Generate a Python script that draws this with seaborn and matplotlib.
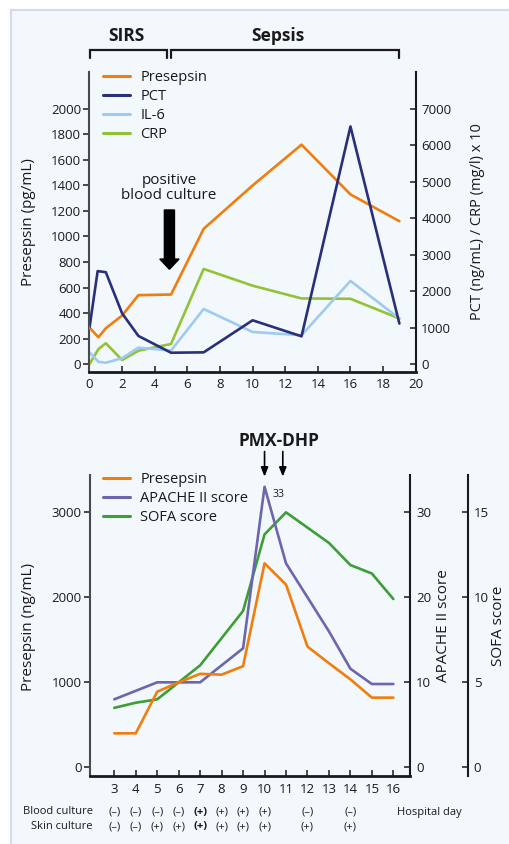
import numpy as np
import pandas as pd
import matplotlib
matplotlib.use("Agg")
import matplotlib.pyplot as plt
from matplotlib.patches import Rectangle, FancyArrow
from matplotlib.lines import Line2D
from matplotlib.transforms import blended_transform_factory
import seaborn as sns

# ---------------- data: course of biomarkers (top panel) ----------------
presepsin_days = [0, 0.55, 1, 2, 3, 5, 7, 10, 13, 16, 19]
presepsin_pg = [285, 210, 280, 380, 540, 545, 1060, 1400, 1720, 1330, 1120]

pct_days = [0, 0.5, 1, 2, 3, 5, 7, 10, 13, 16, 19]
pct_vals = [1000, 2550, 2520, 1390, 770, 310, 320, 1200, 760, 6520, 1110]

il6_days = [0, 0.55, 1, 2, 3, 5, 7, 10, 13, 16, 19]
il6_vals = [320, 60, 35, 160, 450, 370, 1510, 880, 790, 2280, 1250]

crp_days = [0, 0.55, 1, 2, 3, 5, 7, 10, 13, 16, 19]
crp_vals = [0, 410, 570, 110, 365, 550, 2610, 2150, 1800, 1790, 1250]

top_xticks = list(range(0, 21, 2))
top_left_ticks = list(range(0, 2001, 200))
top_right_ticks = list(range(0, 7001, 1000))

# ---------------- data: hospital course (bottom panel) ----------------
hospital_days = [3, 4, 5, 6, 7, 8, 9, 10, 11, 12, 13, 14, 15, 16]
presepsin_ng = [400, 400, 890, 1000, 1100, 1090, 1190, 2400, 2150, 1420, 1225, 1035, 820, 820]
apache_score = [8, 9, 10, 10, 10, 12, 14, 33, 24, 20, 16, 11.6, 9.8, 9.8]
sofa_score = [3.5, 3.8, 4.0, 5, 6, 7.6, 9.2, 13.7, 15, 14.1, 13.2, 11.9, 11.4, 9.9]

culture_days = [3, 4, 5, 6, 7, 8, 9, 10, 12, 14]
blood_culture = ["(\u2013)", "(\u2013)", "(\u2013)", "(\u2013)", "(+)", "(+)", "(+)", "(+)", "(\u2013)", "(\u2013)"]
skin_culture = ["(\u2013)", "(\u2013)", "(+)", "(+)", "(+)", "(+)", "(+)", "(+)", "(+)", "(+)"]
first_positive_day = 7

pmx_days = [10, 10.85]
bottom_left_ticks = [0, 1000, 2000, 3000]
apache_ticks = [0, 10, 20, 30]
sofa_ticks = [0, 5, 10, 15]

# ---------------- style ----------------
sns.set_theme(style="ticks")
plt.rcParams["font.family"] = ["Open Sans", "DejaVu Sans"]
plt.rcParams["axes.linewidth"] = 1.5

C_PRESEPSIN = "#f07d0c"
C_PCT = "#28307a"
C_IL6 = "#9ecbef"
C_CRP = "#92c236"
C_APACHE = "#6b66ad"
C_SOFA = "#3d9e35"
INK = "#1a1a1a"
LW = 1.9
TICK_FS = 9.5

W, H = 510, 844
fig = plt.figure(figsize=(W / 100, H / 100), dpi=100, facecolor="white")

# light panel behind both charts
panel = Rectangle((11 / W, -0.1), 1.2, 1 - 10 / H + 0.1, transform=fig.transFigure,
                  facecolor="#f3f8fd", edgecolor="#d9d9ee", lw=1.6, zorder=-5)
fig.add_artist(panel)


def fig_box(left_px, top_px, right_px, bottom_px):
    return [left_px / W, 1 - bottom_px / H, (right_px - left_px) / W, (bottom_px - top_px) / H]


def style_axis(ax, side):
    ax.set_facecolor("none")
    for s in ax.spines.values():
        s.set_color(INK)
    ax.spines["top"].set_visible(False)
    if side == "left":
        ax.spines["right"].set_visible(False)
        ax.spines["left"].set_color("#4a4a4a")
        ax.tick_params(axis="y", direction="out", length=4.5, width=1.1, pad=1.5,
                       labelsize=TICK_FS, colors=INK)
        ax.tick_params(axis="x", direction="in", length=4.5, width=1.1, pad=4,
                       labelsize=TICK_FS, colors=INK)
        ax.spines["bottom"].set_linewidth(2.0)
    else:
        ax.spines["left"].set_visible(False)
        ax.spines["bottom"].set_visible(False)
        ax.tick_params(axis="y", direction="in", length=4.5, width=1.1, pad=4,
                       labelsize=TICK_FS, colors=INK)


# ======================= top chart =======================
ax1 = fig.add_axes(fig_box(89.5, 72, 415.7, 372.3))
ax1r = ax1.twinx()
style_axis(ax1, "left")
style_axis(ax1r, "right")

sns.lineplot(x=presepsin_days, y=presepsin_pg, ax=ax1, color=C_PRESEPSIN, lw=LW, zorder=5)
sns.lineplot(x=crp_days, y=crp_vals, ax=ax1r, color=C_CRP, lw=LW, zorder=2)
sns.lineplot(x=il6_days, y=il6_vals, ax=ax1r, color=C_IL6, lw=LW, zorder=3)
sns.lineplot(x=pct_days, y=pct_vals, ax=ax1r, color=C_PCT, lw=LW, zorder=4)

ax1.set_xlim(0, 20)
ax1.set_ylim(-65, 2290)
ax1r.set_ylim(-65 * 3.5, 2290 * 3.5)
ax1.set_xticks(top_xticks)
ax1.set_yticks(top_left_ticks)
ax1r.set_yticks(top_right_ticks)
ax1.set_xlabel("")
ax1.set_ylabel("")
ax1r.set_ylabel("")

top_handles = [Line2D([], [], color=c, lw=2.2) for c in (C_PRESEPSIN, C_PCT, C_IL6, C_CRP)]
leg1 = ax1r.legend(top_handles, ["Presepsin", "PCT", "IL-6", "CRP"], loc="upper left",
                   bbox_to_anchor=(103 / W, 1 - 70 / H), bbox_transform=fig.transFigure,
                   frameon=False, fontsize=10.5, handlelength=1.85, handletextpad=0.7,
                   labelspacing=0.28, borderpad=0, borderaxespad=0)
for t in leg1.get_texts():
    t.set_color(INK)

# SIRS / Sepsis brackets above the chart
for x0, x1, name, xc in [(0.05, 4.78, "SIRS", 2.28), (5.0, 18.96, "Sepsis", 11.55)]:
    ax1.plot([x0, x0, x1, x1], [2400, 2463, 2463, 2400], color=INK, lw=1.6,
             clip_on=False, solid_joinstyle="miter")
    ax1.text(xc, 2573, name, ha="center", va="center", fontsize=12.5,
             fontweight="bold", color=INK, clip_on=False)

ax1.text(4.87, 1380, "positive\nblood culture", ha="center", va="center",
         fontsize=11, color=INK, linespacing=1.05)
ax1.add_patch(FancyArrow(4.9, 1208, 0, -465, width=0.62, head_width=1.18,
                         head_length=80, length_includes_head=True,
                         color="black", zorder=6))

fig.text(28.5 / W, 1 - 222 / H, "Presepsin (pg/mL)", rotation=90, ha="center",
         va="center", fontsize=11, color=INK)
fig.text(477.5 / W, 1 - 222 / H, "PCT (ng/mL) / CRP (mg/l) x 10", rotation=90,
         ha="center", va="center", fontsize=10.5, color=INK)

# ======================= bottom chart =======================
ax2 = fig.add_axes(fig_box(90, 475, 410.5, 776))
ax2a = ax2.twinx()
ax2s = ax2.twinx()
style_axis(ax2, "left")
style_axis(ax2a, "right")
style_axis(ax2s, "right")
ax2s.spines["right"].set_position(("axes", 1 + 57.8 / 320.5))

sns.lineplot(x=hospital_days, y=sofa_score, ax=ax2s, color=C_SOFA, lw=LW, zorder=2)
sns.lineplot(x=hospital_days, y=apache_score, ax=ax2a, color=C_APACHE, lw=LW, zorder=3)
sns.lineplot(x=hospital_days, y=presepsin_ng, ax=ax2, color=C_PRESEPSIN, lw=LW, zorder=4)

# draw order: SOFA below APACHE below presepsin
ax2s.set_zorder(1)
ax2a.set_zorder(2)
ax2.set_zorder(3)

ax2.set_xlim(1.868, 16.80)
ax2.set_ylim(-102, 3439)
ax2a.set_ylim(-1.02, 34.39)
ax2s.set_ylim(-0.51, 17.195)
ax2.set_xticks(hospital_days)
ax2.set_yticks(bottom_left_ticks)
ax2a.set_yticks(apache_ticks)
ax2s.set_yticks(sofa_ticks)
for a in (ax2, ax2a, ax2s):
    a.set_xlabel("")
    a.set_ylabel("")
ax2.tick_params(axis="x", pad=5)

bottom_handles = [Line2D([], [], color=c, lw=2.2) for c in (C_PRESEPSIN, C_APACHE, C_SOFA)]
leg2 = ax2.legend(bottom_handles, ["Presepsin", "APACHE II score", "SOFA score"],
                  loc="upper left", bbox_to_anchor=(103 / W, 1 - 472 / H),
                  bbox_transform=fig.transFigure, frameon=False, fontsize=10.5,
                  handlelength=1.85, handletextpad=0.7, labelspacing=0.28,
                  borderpad=0, borderaxespad=0)
for t in leg2.get_texts():
    t.set_color(INK)

# peak APACHE value and PMX-DHP sessions
peak_i = int(np.argmax(apache_score))
ax2a.text(hospital_days[peak_i] + 0.65, apache_score[peak_i] - 0.9, f"{apache_score[peak_i]:g}",
          ha="center", va="center", fontsize=7.5, color=INK)
ax2.text(10.65, 3839, "PMX-DHP", ha="center", va="center", fontsize=12.5,
         fontweight="bold", color=INK, clip_on=False)
for d in pmx_days:
    ax2.annotate("", xy=(d, 3420), xytext=(d, 3715), xycoords="data",
                 arrowprops=dict(arrowstyle="-|>,head_length=0.45,head_width=0.18",
                                 color="black", lw=1.2, shrinkA=0, shrinkB=0),
                 annotation_clip=False)

fig.text(28.5 / W, 1 - 627 / H, "Presepsin (ng/mL)", rotation=90, ha="center",
         va="center", fontsize=11, color=INK)
fig.text(444 / W, 1 - 626 / H, "APACHE II score", rotation=90, ha="center",
         va="center", fontsize=11, color=INK)
fig.text(499 / W, 1 - 626 / H, "SOFA score", rotation=90, ha="center",
         va="center", fontsize=11, color=INK)

# culture results below the day axis
tr = blended_transform_factory(ax2.transData, fig.transFigure)
row_y = [1 - 812 / H, 1 - 826.7 / H]
for label, values, y in [("Blood culture", blood_culture, row_y[0]),
                         ("Skin culture", skin_culture, row_y[1])]:
    fig.text(92.7 / W, y, label, ha="right", va="center", fontsize=8, color=INK)
    for d, v in zip(culture_days, values):
        ax2.text(d, y, v, transform=tr, ha="center", va="center", fontsize=8,
                 color=INK, fontweight="bold" if d == first_positive_day else "normal",
                 clip_on=False)
fig.text(429 / W, row_y[0], "Hospital day", ha="center", va="center", fontsize=8, color=INK)

fig.savefig("out.png", dpi=100, facecolor="white")
